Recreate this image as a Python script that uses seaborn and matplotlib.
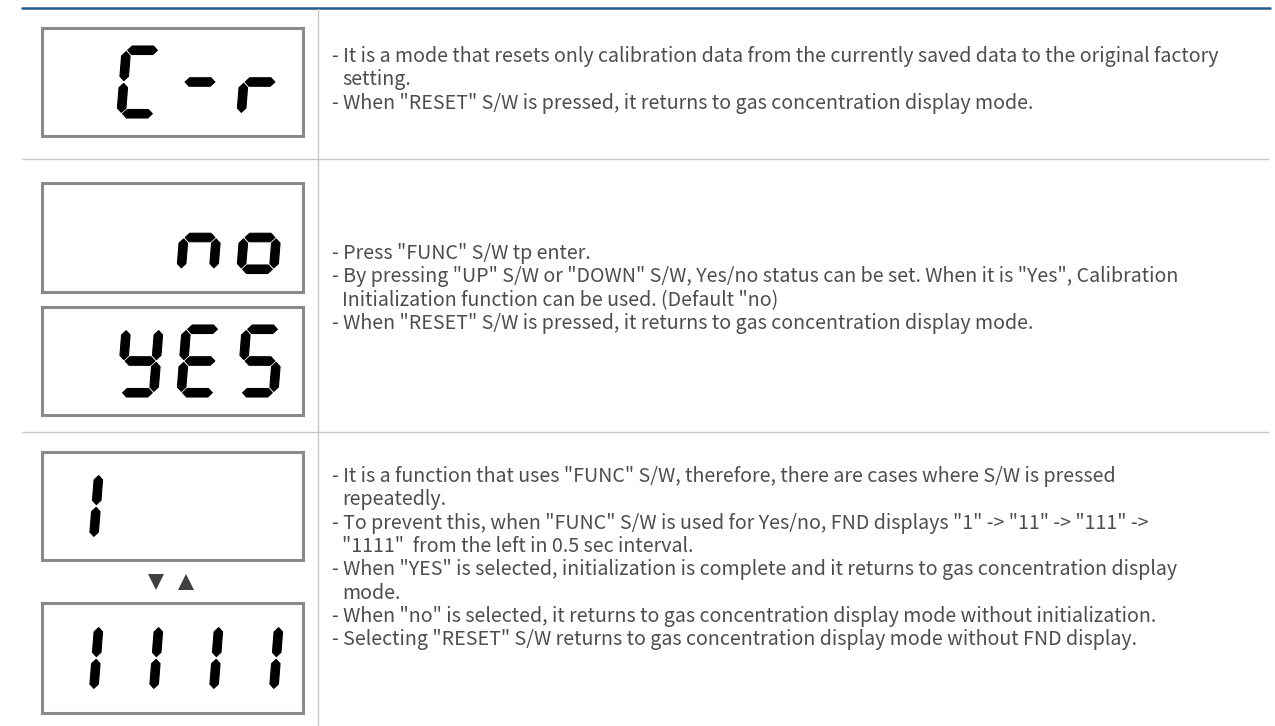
import numpy as np
import matplotlib.pyplot as plt
import seaborn as sns
from matplotlib.patches import Polygon, Rectangle


sns.set_theme(style="white")
plt.rcParams['font.family'] = ['Noto Sans CJK KR', 'DejaVu Sans']

# what each FND window shows, 4 digit slots, ' ' = blank slot
displays = [" C-r", "  no", " YES", "1   ", "1111"]

row1_text = [
    '- It is a mode that resets only calibration data from the currently saved data to the original factory',
    'setting.',
    '- When "RESET" S/W is pressed, it returns to gas concentration display mode.',
]
row2_text = [
    '- Press "FUNC" S/W tp enter.',
    '- By pressing "UP" S/W or "DOWN" S/W, Yes/no status can be set. When it is "Yes", Calibration',
    'Initialization function can be used. (Default "no)',
    '- When "RESET" S/W is pressed, it returns to gas concentration display mode.',
]
row3_text = [
    '- It is a function that uses "FUNC" S/W, therefore, there are cases where S/W is pressed',
    'repeatedly.',
    '- To prevent this, when "FUNC" S/W is used for Yes/no, FND displays "1" -> "11" -> "111" ->',
    '"1111"  from the left in 0.5 sec interval.',
    '- When "YES" is selected, initialization is complete and it returns to gas concentration display',
    'mode.',
    '- When "no" is selected, it returns to gas concentration display mode without initialization.',
    '- Selecting "RESET" S/W returns to gas concentration display mode without FND display.',
]

# seven segment map
SEGS = {
    'C': 'afed', '-': 'g', 'r': 'eg', 'n': 'ceg', 'o': 'cdeg',
    'Y': 'bcdfg', 'E': 'adefg', 'S': 'acdfg', '1': 'bc', ' ': '',
}

# layout (pixels)
W, H = 1275, 726
box_x0, box_x1 = 42, 303
boxes_y = [(28, 136), (183, 292), (307, 415), (452, 560), (603, 713)]
DW, DH, T, GAP, SLANT = 41, 72, 8.5, 1.4, 0.08
slot_left = [59.5, 119.5, 179.5, 239.5]
text_color = '#4d4d4d'
line_gray = '#c9c9c9'


def hexseg(p0, p1, t):
    p0, p1 = np.array(p0, float), np.array(p1, float)
    d = (p1 - p0) / np.linalg.norm(p1 - p0)
    n = np.array([-d[1], d[0]])
    h = t / 2
    return [p0, p0 + d * h + n * h, p1 - d * h + n * h, p1,
            p1 - d * h - n * h, p0 + d * h - n * h]


def draw_char(ax, ch, x0, yb):
    xl, xr = T / 2, DW - T / 2
    yb0, ym, yt = T / 2, DH / 2, DH - T / 2
    nodes = {
        'a': ((xl + GAP, yt), (xr - GAP, yt)),
        'g': ((xl + GAP, ym), (xr - GAP, ym)),
        'd': ((xl + GAP, yb0), (xr - GAP, yb0)),
        'f': ((xl, ym + GAP), (xl, yt - GAP)),
        'b': ((xr, ym + GAP), (xr, yt - GAP)),
        'e': ((xl, yb0 + GAP), (xl, ym - GAP)),
        'c': ((xr, yb0 + GAP), (xr, ym - GAP)),
    }
    for s in SEGS[ch]:
        pts = hexseg(*nodes[s], T)
        pts = [(x0 + x + SLANT * (y - ym), yb - y) for x, y in pts]
        ax.add_patch(Polygon(pts, closed=True, facecolor='black',
                             edgecolor='black', lw=0.8, joinstyle='round'))


fig = plt.figure(figsize=(W / 100, H / 100), dpi=100)
ax = fig.add_axes([0, 0, 1, 1])
ax.set_xlim(0, W)
ax.set_ylim(H, 0)
ax.axis('off')

# table rules
ax.plot([22, 1270], [8, 8], color='#24598a', lw=1.8)
for y in (159, 432):
    ax.plot([22, 1268], [y, y], color=line_gray, lw=1.0)
ax.plot([318, 318], [9, H], color=line_gray, lw=1.0)

# FND windows
for disp, (y0, y1) in zip(displays, boxes_y):
    ax.add_patch(Rectangle((box_x0, y0), box_x1 - box_x0, y1 - y0,
                           facecolor='white', edgecolor='#8a8a8a', lw=2.2))
    yb = (y0 + y1) / 2 + DH / 2
    for k, ch in enumerate(disp):
        draw_char(ax, ch, slot_left[k], yb)

# arrows between "1" and "1111"
ax.plot([155.5], [582], marker='v', color='#404040', ms=12, mew=0)
ax.plot([186], [582], marker='^', color='#404040', ms=12, mew=0)

# descriptions
for lines, y_first in ((row1_text, 62), (row2_text, 259), (row3_text, 482)):
    for i, line in enumerate(lines):
        x = 332 if line.startswith('-') else 342
        ax.text(x, y_first + i * 23.35, line, fontsize=14.15, color=text_color,
                va='baseline', ha='left')

fig.savefig('out.png', dpi=100)
